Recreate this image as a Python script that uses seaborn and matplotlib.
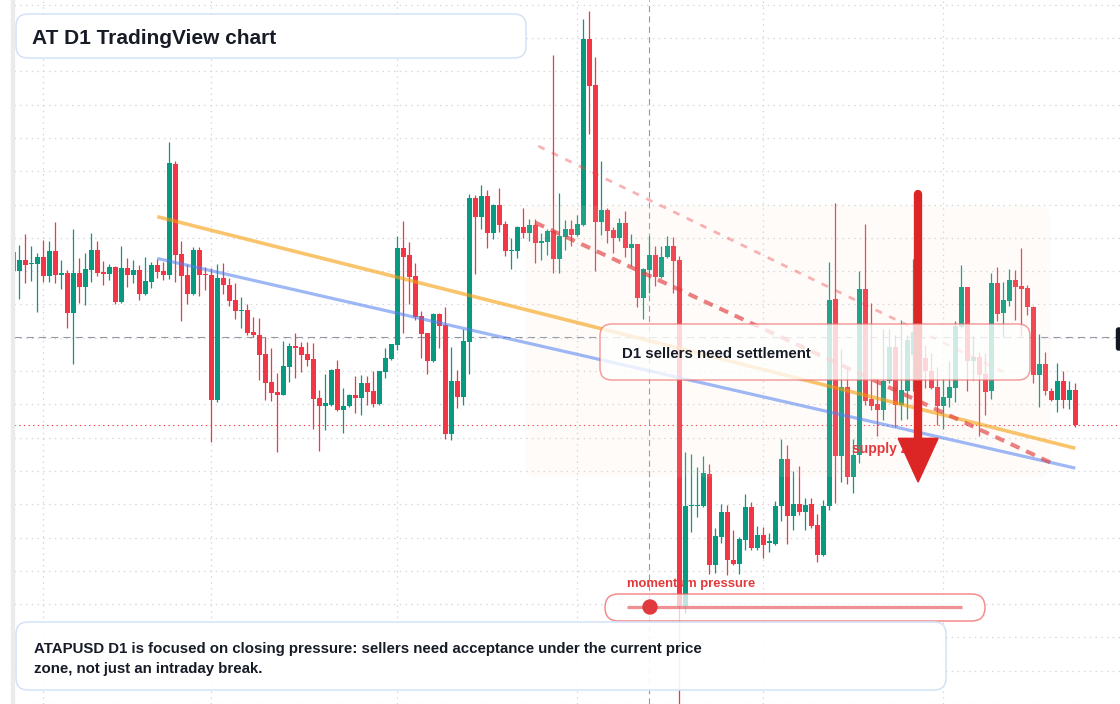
import numpy as np
import pandas as pd
import seaborn as sns
import matplotlib
matplotlib.use("Agg")
import matplotlib.pyplot as plt
from matplotlib.patches import FancyBboxPatch, Polygon, Circle, Rectangle
from matplotlib.transforms import Affine2D

# ATAPUSD daily candles, prices in 1e-4 USD
opens = [446, 427, 438, 434, 434, 441, 422, 447, 423, 425,
         385, 425, 411, 428, 448, 426, 424, 431, 396, 430,
         423, 428, 404, 416, 433, 427, 423, 535, 444, 423,
         404, 448, 424, 423, 298, 420, 413, 398, 387, 388,
         366, 363, 344, 316, 306, 303, 331, 352, 351, 344,
         339, 300, 292, 293, 329, 287, 292, 303, 300, 315,
         307, 294, 326, 339, 353, 450, 443, 422, 382, 365,
         337, 384, 373, 263, 317, 301, 356, 501, 482, 503,
         466, 494, 475, 447, 447, 472, 466, 474, 456, 457,
         468, 439, 462, 470, 464, 474, 661, 614, 477, 489,
         469, 461, 476, 450, 455, 400, 428, 443, 421, 441,
         453, 438, 90, 191, 191, 191, 223, 132, 160, 185,
         137, 133, 157, 190, 149, 162, 154, 153, 191, 238,
         181, 193, 185, 193, 172, 142, 191, 399, 241, 311,
         220, 242, 409, 299, 294, 287, 317, 351, 293, 307,
         343, 355, 340, 327, 311, 292, 300, 310, 371, 411,
         337, 341, 324, 307, 415, 385, 397, 418, 412, 410,
         391, 323, 334, 307, 298, 317, 298, 308]
highs = [450, 454, 465, 453, 445, 459, 458, 477, 438, 428,
         470, 440, 445, 466, 458, 437, 434, 432, 453, 440,
         438, 433, 441, 436, 439, 436, 557, 538, 458, 434,
         451, 451, 431, 430, 434, 435, 420, 415, 401, 394,
         381, 380, 361, 350, 325, 357, 355, 365, 356, 356,
         355, 308, 324, 329, 338, 310, 304, 322, 323, 322,
         327, 327, 350, 354, 463, 478, 457, 435, 387, 365,
         385, 385, 391, 351, 328, 369, 505, 504, 514, 509,
         495, 511, 478, 461, 473, 491, 480, 480, 466, 470,
         645, 506, 479, 479, 484, 681, 689, 643, 538, 491,
         472, 481, 488, 465, 455, 430, 463, 452, 453, 463,
         462, 442, 245, 243, 230, 241, 233, 169, 193, 192,
         167, 160, 203, 195, 171, 170, 164, 196, 258, 252,
         226, 231, 199, 199, 183, 197, 436, 496, 349, 330,
         258, 427, 475, 395, 320, 369, 369, 363, 378, 363,
         439, 400, 353, 345, 331, 320, 337, 377, 433, 411,
         362, 346, 345, 425, 431, 416, 429, 428, 450, 413,
         392, 364, 346, 310, 335, 327, 317, 315]
lows = [422, 399, 415, 417, 386, 416, 416, 415, 409, 370,
        334, 395, 393, 416, 422, 413, 418, 394, 395, 411,
        415, 398, 403, 410, 420, 418, 419, 416, 377, 394,
        403, 402, 408, 255, 296, 404, 392, 379, 370, 363,
        361, 318, 298, 297, 245, 303, 316, 320, 326, 332,
        268, 246, 267, 292, 286, 264, 291, 284, 282, 293,
        291, 293, 320, 338, 348, 365, 394, 378, 340, 324,
        336, 350, 258, 257, 290, 293, 324, 424, 470, 450,
        460, 467, 442, 429, 440, 461, 458, 435, 438, 443,
        425, 425, 448, 453, 463, 473, 565, 427, 464, 456,
        445, 458, 441, 432, 391, 379, 405, 412, 420, 440,
        405, -10, 83, 165, 180, 190, 122, 123, 154, 121,
        132, 122, 147, 147, 147, 139, 145, 152, 176, 153,
        167, 182, 167, 169, 135, 141, 187, 194, 215, 213,
        204, 234, 293, 287, 261, 277, 315, 270, 277, 278,
        307, 305, 310, 309, 272, 268, 291, 296, 370, 307,
        318, 261, 282, 299, 377, 361, 392, 378, 362, 383,
        315, 291, 303, 297, 285, 290, 289, 270]
closes = [427, 438, 433, 435, 441, 422, 447, 423, 425, 385,
          425, 411, 429, 448, 425, 424, 431, 396, 430, 423,
          428, 404, 417, 433, 426, 423, 536, 443, 422, 404,
          448, 423, 423, 298, 420, 413, 397, 387, 388, 365,
          363, 343, 315, 305, 303, 332, 352, 350, 343, 338,
          299, 292, 295, 328, 287, 292, 303, 300, 315, 306,
          294, 327, 340, 354, 450, 441, 421, 381, 364, 337,
          384, 372, 263, 317, 301, 357, 501, 482, 503, 466,
          494, 474, 447, 448, 472, 466, 474, 456, 458, 468,
          439, 463, 470, 464, 475, 661, 613, 477, 489, 468,
          461, 476, 450, 455, 400, 429, 443, 421, 441, 453,
          437, 90, 191, 192, 192, 224, 132, 161, 185, 137,
          133, 158, 190, 149, 162, 152, 155, 191, 238, 181,
          193, 185, 192, 171, 142, 191, 398, 241, 311, 220,
          242, 409, 297, 292, 287, 317, 351, 293, 308, 358,
          366, 328, 327, 310, 292, 301, 311, 372, 411, 337,
          341, 323, 306, 415, 384, 398, 418, 411, 409, 391,
          323, 334, 307, 298, 317, 298, 308, 272]

month_starts = [5, 33, 64, 94, 125, 155]
crosshair_bar = 106
crosshair_price = 361

# drawings: (bar index, price) anchors
trend_orange = ([24, 177], [482, 249])
trend_blue = ([24, 177], [440, 229])
dash_light = ([87.5, 165.3], [553, 325])
dash_red = ([87, 173.1], [476, 234])
zone_bars = (85.3, 172.8)
zone_prices = (220, 493)
arrow_bar = 150.8
arrow_prices = (505, 259, 215)  # shaft top, head base, tip

UP, DOWN = "#089981", "#f23645"
INK = "#161b26"
RED = "#e3393c"
W, H = 1120, 704

df = pd.DataFrame({"open": opens, "high": highs, "low": lows, "close": closes})
df["bar"] = np.arange(len(df))
df["up"] = df["close"] >= df["open"]

sns.set_theme(style="white")
plt.rcParams["font.family"] = ["Liberation Sans", "DejaVu Sans"]

fig = plt.figure(figsize=(W / 100, H / 100), dpi=100)
fig.patch.set_facecolor("white")
ax = fig.add_axes([14 / W, 0, 1 - 14 / W, 1])
ax.set_facecolor("white")
ax.set_xlim((14 - 13.3) / 6, (W - 13.3) / 6)
ax.set_ylim(-4, 700)

# pixel transform for panels/labels (origin top-left)
PX = Affine2D().scale(1 / W, -1 / H).translate(0, 1) + fig.transFigure

ax.set_xticks(month_starts)
ax.set_yticks(np.arange(695.2, -10, -33.5))
ax.tick_params(length=0, labelbottom=False, labelleft=False)
ax.grid(True, color="#d4d7dd", linestyle=(0, (1.2, 3.4)), linewidth=0.9, zorder=0)
ax.set_axisbelow(True)
sns.despine(ax=ax, left=True, bottom=True)

# crosshair and last price line
ax.axvline(crosshair_bar, color="#9598a1", lw=0.8, ls=(0, (5.5, 3.8)), zorder=2)
ax.axhline(crosshair_price, color="#9598a1", lw=0.8, ls=(0, (6.5, 4.5)), zorder=2)
ax.axhline(df["close"].iloc[-1], color=DOWN, lw=0.8, ls=(0, (1.2, 3)), zorder=2)

# candles
colors = np.where(df["up"], UP, DOWN)
body_low = np.minimum(df["open"], df["close"])
body_h = np.maximum((df["close"] - df["open"]).abs(), 1.2)
ax.vlines(df["bar"], df["low"], df["high"], colors=colors, lw=0.9, zorder=3)
ax.bar(df["bar"], body_h, bottom=body_low, width=0.78, color=colors,
       linewidth=0, zorder=3)

# supply zone shading
zone = FancyBboxPatch((zone_bars[0], zone_prices[0]), zone_bars[1] - zone_bars[0],
                      zone_prices[1] - zone_prices[0],
                      boxstyle="round,pad=0,rounding_size=2", mutation_aspect=6,
                      facecolor="#f6e3cc", edgecolor="none", alpha=0.11, zorder=3.5)
ax.add_patch(zone)

# trend lines
ax.plot(*trend_orange, color="#f59e0b", alpha=0.6, lw=2.6, solid_capstyle="butt", zorder=4)
ax.plot(*trend_blue, color="#4f7ff0", alpha=0.55, lw=2.3, solid_capstyle="butt", zorder=4)
ax.plot(*dash_light, color="#ef4444", alpha=0.4, lw=2.0, ls=(0, (2.5, 2.9)), zorder=4)
ax.plot(*dash_red, color="#e23c3c", alpha=0.65, lw=2.9, ls=(0, (2.4, 1.8)), zorder=4)

# labels living under the marks
ax.text(627, 583.5, "momentum pressure", transform=PX, color=RED, fontsize=9.4,
        fontweight="bold", va="center", ha="left", zorder=2.6, clip_on=False)
ax.text(852, 449.5, "supply zone", transform=PX, color=RED, fontsize=10,
        fontweight="bold", va="center", ha="left", zorder=4.5, clip_on=False)

# bearish arrow
ax.plot([arrow_bar, arrow_bar], arrow_prices[:2], color="#dc2626", lw=6,
        solid_capstyle="round", zorder=5)
hw = 20 / 6
ax.add_patch(Polygon([[arrow_bar - hw, arrow_prices[1]], [arrow_bar + hw, arrow_prices[1]],
                      [arrow_bar, arrow_prices[2]]], closed=True, color="#dc2626", zorder=5))


def panel(x0, y0, x1, y1, edge, face_alpha, r=12, lw=1.1, z=6):
    p = FancyBboxPatch((x0, y0), x1 - x0, y1 - y0,
                       boxstyle=f"round,pad=0,rounding_size={r}", transform=PX,
                       facecolor=(1, 1, 1, face_alpha), edgecolor=edge, lw=lw,
                       zorder=z, clip_on=False)
    ax.add_patch(p)


# title panel
panel(16, 14, 526, 58, "#d3e2f7", 0.95)
ax.text(32, 38, "AT D1 TradingView chart", transform=PX, color=INK, fontsize=15,
        fontweight="bold", va="center", ha="left", zorder=7)

# settlement note
panel(600, 324, 1030, 380, (0.94, 0.42, 0.42, 0.65), 0.78)
ax.text(622, 354.5, "D1 sellers need settlement", transform=PX, color=INK, fontsize=10.8,
        fontweight="bold", va="center", ha="left", zorder=7)

# momentum slider
panel(605, 594, 985, 621, (0.94, 0.36, 0.36, 0.7), 0.75, r=13.5)
ax.plot([627, 962], [607, 607], transform=PX, color="#e5484d", alpha=0.6, lw=2.3,
        solid_capstyle="butt", zorder=7, clip_on=False)
ax.add_patch(Circle((650, 607), 7, transform=PX, color="#e03a3e", zorder=7.5, clip_on=False))

# bottom commentary
panel(16, 622, 946, 690, "#d3e2f7", 0.92)
ax.text(34, 648.5, "ATAPUSD D1 is focused on closing pressure: sellers need acceptance under the current price",
        transform=PX, color=INK, fontsize=10.85, fontweight="bold", va="center", ha="left", zorder=7)
ax.text(34, 668.5, "zone, not just an intraday break.", transform=PX, color=INK, fontsize=10.85,
        fontweight="bold", va="center", ha="left", zorder=7)

# price scale edge label and left strip
ax.add_patch(FancyBboxPatch((1116.5, 328), 12, 22, boxstyle="round,pad=0,rounding_size=2",
                            transform=PX, color="#131722", zorder=7, clip_on=False))
fig.add_artist(Rectangle((10.5, 0), 3.5, H, transform=PX, color="#ebebeb", zorder=1))

fig.savefig("out.png", dpi=100, facecolor="white")
